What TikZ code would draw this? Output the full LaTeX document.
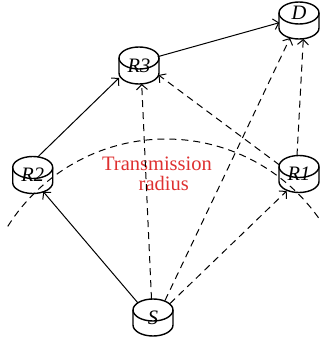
\documentclass[tikz,border=0pt]{standalone}
\usepackage{fontspec}
\setmainfont{Liberation Serif}
\usetikzlibrary{arrows.meta,calc}
\definecolor{radiusred}{RGB}{222,48,48}

\begin{document}
\begin{tikzpicture}[x=1pt,y=1pt,
  cylbox/.style={inner sep=0pt, minimum width=40pt, minimum height=37pt,
    font=\fontsize{20.5}{22}\selectfont\itshape},
  raised/.style={text height=14pt, text depth=16pt},
  cylline/.style={line width=1.4pt},
  link/.style={line width=1pt, -{Straight Barb[length=5pt,width=11pt]}},
  radio/.style={link, dash pattern=on 7pt off 5pt},
  rangeline/.style={line width=1pt, dash pattern=on 7pt off 5pt},
  rangelabel/.style={text=radiusred, align=left, inner sep=0pt,
    font=\fontsize{20.5}{19.5}\selectfont}]

\useasboundingbox (0,0) rectangle (321,-345);

% stations
\node[cylbox, raised] (D)  at (299,-20.5)  {D};
\node[cylbox]         (R3) at (139,-65.5)  {R3};
\node[cylbox]         (R2) at (32.7,-175)  {R2};
\node[cylbox]         (R1) at (299,-174)   {R1};
\node[cylbox]         (S)  at (153,-317.5) {S};

% cylinder outlines around each station
\foreach \n in {D,R3,R2,R1,S} {
  \draw[cylline] ($(\n)+(0,7.5)$) ellipse[x radius=20, y radius=11];
  \draw[cylline] ($(\n)+(-20,7.5)$) -- ++(0,-15)
    arc[start angle=180, end angle=360, x radius=20, y radius=11] -- ++(0,15);
}

% transmission range of S
\coordinate (rc) at (166,-326);
\draw[rangeline] (rc) ++(147.8:187) arc[start angle=147.8, end angle=34.5, radius=187];
\node[rangelabel] (tr) at (157,-174) {Transmission\\\hspace*{36.6pt}radius};

% relay path
\draw[link] ($(S)+(-15,14.5)$) -- ($(R2)+(10.6,-16.7)$);
\draw[link] ($(R2)+(5,18)$) -- ($(R3)+(-20,-12.5)$);
\draw[link] ($(R3)+(18.7,8.8)$) -- ($(D)+(-19.7,-2.2)$);

% other links
\draw[radio] ($(S)+(-1.5,18.5)$) -- ($(R3)+(2.7,-18.5)$);
\draw[radio] ($(S)+(12,17)$) -- ($(D)+(-9,-17.5)$);
\draw[radio] ($(S)+(17,14)$) -- ($(R1)+(-12.3,-17)$);
\draw[radio] ($(R1)+(-19.5,9)$) -- ($(R3)+(19.5,-9.5)$);
\draw[radio] ($(R1)+(-2,18.5)$) -- ($(D)+(4.3,-18.5)$);
\end{tikzpicture}
\end{document}
